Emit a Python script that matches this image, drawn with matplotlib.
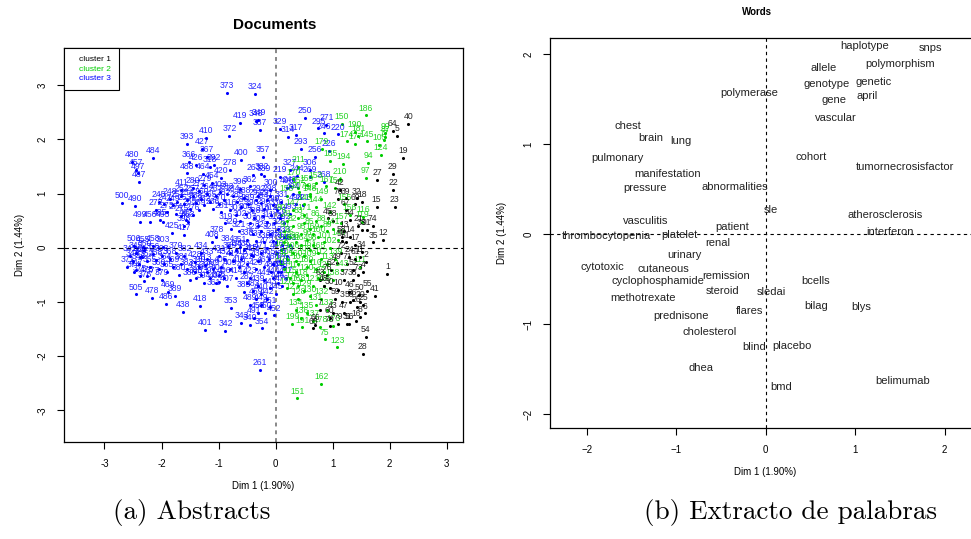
import matplotlib
matplotlib.use('Agg')
import matplotlib.pyplot as plt
from matplotlib.lines import Line2D

plt.rcParams['font.family'] = ['Liberation Sans', 'DejaVu Sans']

# documents: (dim1, dim2, label) per cluster
clus1 = [(2.33, 2.28, '40'), (2.05, 2.16, '64'), (2.13, 2.06, '5'), (2.23, 1.65, '19'),
         (2.05, 1.36, '29'), (1.78, 1.25, '27'), (2.06, 1.06, '22'), (2.09, 0.75, '23'),
         (1.77, 0.75, '15'), (1.42, 0.91, '32'), (1.51, 0.85, '18'), (1.13, 1.06, '42'),
         (1.23, 0.91, '39'), (1.88, 0.14, '12'), (1.71, 0.10, '35'), (1.23, 0.10, '51'),
         (1.16, 0.12, '57'), (1.16, 0.20, '58'), (1.74, -0.89, '41'), (1.61, -0.80, '55'),
         (1.47, -0.87, '50'), (1.29, -0.81, '46'), (1.35, -0.96, '36'), (1.96, -0.49, '1'),
         (1.51, -0.07, '34'), (1.39, -0.20, '61'), (1.48, -0.17, '11'), (1.58, -0.26, '2'),
         (1.36, -0.41, '52'), (1.58, -1.64, '54'), (1.53, -1.96, '28'), (1.42, -1.09, '26'),
         (1.57, -1.21, '6'), (1.48, -1.28, '8'), (1.41, -1.35, '16'), (1.29, -1.40, '56'),
         (1.26, -1.41, '31'), (1.10, -1.40, '79'), (0.69, -1.43, '66'), (0.66, -1.49, '65'),
         (1.10, -0.78, '10'), (0.95, -0.75, '30'), (0.84, -0.71, '48'), (0.78, -0.60, '63'),
         (1.16, -1.00, '3'), (1.48, -1.00, '20'), (1.54, -1.06, '25'), (0.78, -1.15, '7'),
         (0.92, 0.54, '45'), (1.00, 0.49, '68'), (1.30, 0.51, '44'), (1.23, 0.70, '67'),
         (1.51, 0.33, '33'), (1.60, 0.33, '91'), (0.98, -0.41, '62'), (1.07, -0.29, '49'),
         (1.29, -0.17, '24'), (1.54, -0.44, '4'), (1.20, 0.30, '13'), (1.30, 0.20, '14'),
         (1.40, 0.05, '17'), (1.45, 0.40, '21'), (1.20, -0.60, '37'), (1.35, -0.60, '38'),
         (1.00, -1.20, '43'), (1.20, -1.20, '47'), (1.30, -1.00, '53'), (1.05, -0.95, '59'),
         (0.95, -1.30, '60'), (1.40, 0.80, '69'), (1.10, 0.90, '70'), (1.25, -0.30, '71'),
         (1.15, -0.10, '72'), (1.45, -0.50, '73'), (1.70, 0.40, '74'), (0.90, -0.50, '76'),
         (0.95, -1.45, '78')]

clus2 = [(1.58, 2.44, '186'), (1.16, 2.28, '150'), (1.39, 2.14, '190'), (1.45, 2.06, '181'),
         (1.40, 1.91, '177'), (1.25, 1.96, '174'), (1.60, 1.96, '145'), (1.92, 2.04, '87'),
         (1.92, 2.11, '99'), (1.90, 1.98, '77'), (0.81, 1.83, '179'), (1.82, 1.89, '105'),
         (1.85, 1.71, '124'), (1.62, 1.56, '94'), (1.58, 1.29, '97'), (0.96, 1.60, '185'),
         (1.19, 1.54, '194'), (0.40, 1.49, '211'), (0.41, 1.02, '207'), (0.31, 1.26, '170'),
         (1.13, 1.27, '210'), (0.89, 1.13, '167'), (0.60, 0.99, '192'), (1.54, 0.57, '116'),
         (1.51, 0.48, '119'), (1.08, -1.84, '123'), (0.80, -2.51, '162'), (0.38, -2.78, '151'),
         (0.86, -1.69, '75'), (0.78, -1.46, '178'), (0.29, -1.41, '199'), (0.47, -1.47, '191'),
         (1.01, -1.44, '173'), (1.16, -0.42, '143'), (1.48, -0.35, '111'),
         (0.10, 0.60, '80'), (0.20, 0.50, '81'), (0.30, 0.40, '82'), (0.40, 0.55, '83'),
         (0.50, 0.45, '84'), (0.60, 0.35, '85'), (0.70, 0.50, '86'), (0.80, 0.40, '88'),
         (0.90, 0.30, '89'), (0.15, 0.30, '90'), (0.25, 0.20, '92'), (0.35, 0.10, '93'),
         (0.45, 0.25, '95'), (0.55, 0.15, '96'), (0.65, 0.05, '98'), (0.75, 0.20, '100'),
         (0.85, 0.10, '101'), (0.95, 0.00, '102'), (0.10, -0.05, '103'), (0.20, -0.20, '104'),
         (0.30, -0.10, '106'), (0.40, -0.30, '107'), (0.50, -0.15, '108'), (0.60, -0.25, '109'),
         (0.70, -0.40, '110'), (0.80, -0.20, '112'), (0.90, -0.30, '113'), (0.15, -0.40, '114'),
         (0.25, -0.55, '115'), (0.35, -0.45, '117'), (0.45, -0.60, '118'), (0.55, -0.50, '120'),
         (0.65, -0.70, '121'), (0.75, -0.55, '122'), (0.85, -0.45, '125'), (0.20, -0.75, '126'),
         (0.30, -0.85, '127'), (0.40, -0.95, '128'), (0.50, -0.80, '129'), (0.60, -0.90, '130'),
         (0.70, -1.05, '131'), (0.80, -0.95, '132'), (0.90, -1.15, '133'), (0.35, -1.15, '134'),
         (0.55, -1.20, '135'), (0.45, -1.30, '136'), (0.65, -1.35, '137'), (1.00, -0.60, '138'),
         (1.05, -0.20, '139'), (1.10, 0.15, '140'), (1.00, 0.35, '141'), (0.95, 0.65, '142'),
         (0.70, 0.75, '144'), (0.50, 0.80, '146'), (0.30, 0.70, '147'), (0.60, 0.95, '148'),
         (0.80, 0.90, '149'), (0.40, 1.10, '152'), (0.70, 1.20, '153'), (1.05, 1.10, '154'),
         (1.20, 0.80, '155'), (1.30, 0.60, '156'), (1.15, 0.45, '157'), (0.20, 0.95, '158'),
         (0.55, 1.15, '159'), (0.35, -0.25, '160'), (0.60, -0.05, '161'), (0.25, 0.05, '163'),
         (0.45, 0.05, '164'), (0.75, -0.10, '165'), (0.85, -0.70, '166'), (0.40, -0.70, '168'),
         (0.65, 0.25, '169'), (0.50, 0.60, '171'), (0.15, 0.10, '172'), (0.10, -0.30, '175'),
         (0.30, -0.65, '176'), (0.55, -0.35, '180')]

clus3 = [(-0.85, 2.85, '373'), (-0.36, 2.84, '324'), (-0.63, 2.31, '419'), (-0.35, 2.34, '348'),
         (-0.30, 2.36, '349'), (-0.28, 2.18, '387'), (-1.22, 2.02, '410'), (-0.81, 2.07, '372'),
         (-1.56, 1.91, '393'), (-1.29, 1.83, '427'), (-1.21, 1.68, '367'), (-0.61, 1.62, '400'),
         (-0.22, 1.68, '357'), (-2.51, 1.59, '480'), (-2.15, 1.65, '484'), (-2.45, 1.43, '457'),
         (-2.41, 1.37, '497'), (-2.39, 1.21, '487'), (-1.52, 1.59, '366'), (-1.39, 1.53, '426'),
         (-1.15, 1.49, '318'), (-1.08, 1.53, '392'), (-0.80, 1.43, '278'), (-0.95, 1.29, '420'),
         (-1.27, 1.36, '464'), (-1.56, 1.37, '488'), (-1.12, 1.19, '454'), (-0.39, 1.34, '263'),
         (-0.25, 1.36, '332'), (-0.20, 1.32, '339'), (-0.09, 1.06, '300'), (-0.45, 1.13, '362'),
         (-2.69, 0.83, '500'), (-2.47, 0.77, '490'), (-0.98, 1.03, '403'), (-1.65, 1.06, '411'),
         (-0.63, 1.08, '396'), (-2.38, 0.47, '499'), (-2.21, 0.47, '456'), (-2.03, 0.51, '485'),
         (-1.97, 0.47, '495'), (-1.82, 0.28, '425'), (-1.61, 0.40, '398'), (-1.57, 0.51, '462'),
         (-1.53, 0.48, '463'), (-1.60, 0.23, '417'), (-2.49, 0.03, '506'), (-2.15, 0.03, '458'),
         (-1.98, 0.01, '303'), (-2.32, 0.01, '455'), (-2.38, -0.17, '460'), (-2.44, -0.41, '447'),
         (-2.25, -0.53, '475'), (-2.45, -0.86, '505'), (-2.17, -0.93, '478'), (-1.92, -1.04, '486'),
         (-1.88, -0.81, '469'), (-1.77, -0.89, '389'), (-1.63, -1.19, '438'), (-1.33, -1.08, '418'),
         (-1.24, -1.51, '401'), (-0.88, -1.54, '342'), (-0.79, -1.11, '353'), (-0.60, -1.39, '343'),
         (-0.45, -1.43, '340'), (-0.24, -1.49, '354'), (-0.27, -2.26, '261'), (-1.09, -0.78, '361'),
         (-1.42, -0.44, '437'), (-1.42, -0.26, '428'), (-1.23, -0.32, '413'), (-0.83, 0.03, '384'),
         (-1.04, 0.20, '378'), (-1.12, 0.11, '408'), (-0.80, -0.10, '359'), (-0.63, 0.02, '351'),
         (-0.44, -0.13, '315'), (-0.51, -0.66, '287'), (-0.56, -0.81, '385'), (-0.99, -0.63, '305'),
         (0.48, 0.79, '221'), (0.84, 1.22, '268'), (0.84, 2.11, '246'), (1.10, 2.09, '220'),
         (0.94, 1.79, '226'), (0.89, 2.27, '271'), (0.51, 2.39, '250'), (0.08, 2.19, '329'),
         (0.35, 2.08, '317'), (0.22, 2.04, '314'), (0.44, 1.83, '293'), (0.69, 1.67, '256'),
         (0.60, 1.43, '306'), (0.37, 1.33, '244'), (0.25, 1.43, '327'), (0.08, 1.31, '219'),
         (0.60, 1.31, '269'), (0.25, 1.13, '243'), (0.75, 2.20, '295'),
         (-2.05, 0.85, '245'), (-1.95, 0.80, '247'), (-1.85, 0.90, '248'), (-1.80, 0.78, '249'),
         (-1.72, 0.85, '251'), (-1.65, 0.95, '252'), (-1.60, 0.80, '253'), (-1.55, 0.88, '254'),
         (-1.50, 0.72, '255'), (-1.45, 0.95, '257'), (-1.40, 0.82, '258'), (-1.35, 0.70, '259'),
         (-1.30, 0.90, '260'), (-1.25, 0.78, '262'), (-1.20, 1.00, '264'), (-1.15, 0.85, '265'),
         (-1.10, 0.72, '266'), (-1.05, 0.95, '267'), (-1.00, 0.80, '270'), (-2.10, 0.70, '272'),
         (-1.90, 0.65, '273'), (-1.75, 0.62, '274'), (-1.65, 0.58, '275'), (-1.45, 0.60, '276'),
         (-1.35, 1.05, '277'), (-1.25, 1.15, '279'), (-1.45, 1.10, '280'), (-0.95, 0.65, '281'),
         (-0.90, 0.88, '282'), (-0.85, 1.00, '283'),
         (-0.75, 0.95, '284'), (-0.68, 0.85, '285'), (-0.60, 0.75, '286'), (-0.55, 0.92, '288'),
         (-0.48, 0.80, '289'), (-0.42, 0.70, '290'), (-0.35, 0.88, '291'), (-0.30, 0.95, '292'),
         (-0.25, 0.82, '294'), (-0.20, 0.72, '296'), (-0.15, 0.88, '297'), (-0.10, 0.95, '298'),
         (-0.05, 0.78, '299'), (-0.70, 0.60, '301'), (-0.62, 0.50, '302'), (-0.52, 0.62, '304'),
         (-0.45, 0.45, '307'), (-0.38, 0.55, '308'), (-0.30, 0.40, '309'), (-0.22, 0.58, '310'),
         (-0.15, 0.48, '311'), (-0.08, 0.60, '312'), (-0.02, 0.45, '313'), (-0.80, 0.70, '316'),
         (-0.88, 0.45, '319'), (-0.78, 0.35, '320'), (-0.65, 0.30, '321'), (-0.40, 0.25, '322'),
         (-0.25, 0.30, '323'), (-0.10, 0.25, '325'), (0.05, 0.35, '326'), (0.08, 0.55, '328'),
         (0.02, 0.70, '330'), (0.10, 0.85, '331'), (0.15, 0.20, '333'), (0.12, 0.05, '334'),
         (-0.05, 0.12, '335'), (-0.20, 0.10, '336'), (-0.35, 0.12, '337'), (-0.50, 0.15, '338'),
         (-2.55, -0.15, '341'), (-2.50, -0.25, '344'), (-2.45, -0.10, '345'), (-2.40, -0.30, '346'),
         (-2.35, -0.18, '347'), (-2.30, -0.05, '350'), (-2.25, -0.25, '352'), (-2.20, -0.35, '355'),
         (-2.15, -0.12, '356'), (-2.10, -0.22, '358'), (-2.05, -0.40, '360'), (-2.00, -0.15, '363'),
         (-1.95, -0.30, '364'), (-1.90, -0.45, '365'), (-1.85, -0.20, '368'), (-1.80, -0.35, '369'),
         (-1.75, -0.10, '370'), (-2.60, -0.35, '371'), (-2.48, -0.45, '374'), (-2.38, -0.52, '375'),
         (-2.30, -0.62, '376'), (-2.15, -0.55, '377'), (-2.00, -0.60, '379'), (-1.70, -0.50, '380'),
         (-1.65, -0.30, '381'), (-1.60, -0.15, '382'), (-1.55, -0.40, '383'),
         (-1.50, -0.60, '386'), (-1.40, -0.55, '388'), (-1.35, -0.35, '390'), (-1.30, -0.50, '391'),
         (-1.25, -0.65, '394'), (-1.20, -0.45, '395'), (-1.15, -0.55, '397'), (-1.10, -0.40, '399'),
         (-1.05, -0.65, '402'), (-1.00, -0.50, '404'), (-0.95, -0.35, '405'), (-0.90, -0.55, '406'),
         (-0.85, -0.70, '407'), (-0.80, -0.40, '409'), (-0.75, -0.25, '412'), (-0.70, -0.55, '414'),
         (-0.65, -0.35, '415'), (-0.60, -0.20, '416'), (-0.55, -0.45, '421'), (-0.50, -0.30, '422'),
         (-0.45, -0.55, '423'), (-0.40, -0.15, '424'), (-0.35, -0.40, '429'), (-0.30, -0.25, '430'),
         (-1.00, -0.15, '431'), (-0.90, -0.20, '432'), (-1.20, -0.20, '433'), (-1.30, -0.10, '434'),
         (-0.70, -0.05, '435'), (-0.55, -0.05, '436'),
         (-0.30, -0.70, '439'), (-0.25, -0.85, '440'), (-0.20, -0.60, '441'), (-0.15, -0.95, '442'),
         (-0.10, -0.75, '443'), (-0.05, -0.55, '444'), (0.00, -0.85, '445'), (0.05, -0.65, '446'),
         (0.10, -0.45, '448'), (-0.25, -1.05, '449'), (-0.18, -1.20, '450'), (-0.10, -1.10, '451'),
         (-0.02, -1.25, '452'), (-0.30, -1.20, '453'), (-0.35, -0.95, '459'), (-0.20, -0.35, '461'),
         (-0.12, -0.20, '465'), (-0.05, -0.30, '466'), (0.02, -0.10, '467'), (0.08, -0.25, '468'),
         (0.15, -0.35, '470'), (-0.25, -0.10, '471'), (-0.15, 0.00, '472'), (0.00, 0.10, '473'),
         (0.05, -0.45, '474'), (0.12, -0.70, '476'), (0.18, -0.55, '477'), (0.20, -0.15, '479'),
         (0.25, 0.05, '481'), (-0.08, -0.45, '482'), (-0.40, -0.80, '483'), (-0.45, -1.05, '489'),
         (-0.38, -1.30, '491'), (0.15, 0.45, '492'), (0.25, 0.62, '493'), (0.30, 1.00, '494'),
         (0.20, 1.10, '496'), (0.35, 0.80, '498')]

cluster_names = ['cluster 1', 'cluster 2', 'cluster 3']
cluster_colors = ['black', '#00CD00', 'blue']

# words: (dim1, dim2)
words = ['haplotype', 'snps', 'allele', 'polymorphism', 'genotype', 'genetic', 'gene', 'april',
         'polymerase', 'vascular', 'chest', 'brain', 'lung', 'pulmonary', 'cohort',
         'manifestation', 'tumornecrosisfactor', 'pressure', 'abnormalities', 'sle',
         'atherosclerosis', 'vasculitis', 'patient', 'interferon', 'thrombocytopenia',
         'platelet', 'renal', 'urinary', 'cytotoxic', 'cutaneous', 'remission',
         'cyclophosphamide', 'bcells', 'steroid', 'sledai', 'methotrexate', 'bilag', 'blys',
         'flares', 'prednisone', 'cholesterol', 'placebo', 'blind', 'dhea', 'belimumab', 'bmd']
word_x = [1.11, 1.84, 0.65, 1.50, 0.68, 1.21, 0.77, 1.13, -0.18, 0.78, -1.54, -1.28, -0.95,
          -1.65, 0.51, -1.10, 1.56, -1.35, -0.34, 0.06, 1.34, -1.34, -0.37, 1.39, -1.78, -0.96,
          -0.53, -0.91, -1.82, -1.14, -0.44, -1.20, 0.56, -0.48, 0.06, -1.37, 0.57, 1.07, -0.18,
          -0.94, -0.63, 0.29, -0.13, -0.72, 1.53, 0.17]
word_y = [2.09, 2.07, 1.85, 1.89, 1.67, 1.69, 1.49, 1.53, 1.57, 1.29, 1.20, 1.07, 1.03, 0.84,
          0.86, 0.67, 0.75, 0.51, 0.52, 0.27, 0.21, 0.14, 0.08, 0.02, -0.02, -0.01, -0.10, -0.23,
          -0.37, -0.39, -0.47, -0.52, -0.52, -0.63, -0.65, -0.71, -0.80, -0.81, -0.86, -0.91,
          -1.09, -1.25, -1.26, -1.49, -1.63, -1.70]

doc_ticks = [-3, -2, -1, 0, 1, 2, 3]
word_ticks = [-2, -1, 0, 1, 2]

fig = plt.figure(figsize=(9.71, 5.39), dpi=100)

# ---- left: documents
ax1 = fig.add_axes([0.0659, 0.1794, 0.4106, 0.7321])
for pts, col in [(clus3, cluster_colors[2]), (clus2, cluster_colors[1]), (clus1, cluster_colors[0])]:
    xs = [p[0] for p in pts]
    ys = [p[1] for p in pts]
    ax1.scatter(xs, ys, s=5, color=col, linewidths=0, zorder=3)
    for x, y, lab in pts:
        ax1.annotate(lab, (x, y), xytext=(0, 2), textcoords='offset points',
                     ha='center', va='bottom', fontsize=6.2, color=col, alpha=0.85, zorder=4)
ax1.axhline(0, color='black', linestyle=(0, (4, 3)), linewidth=0.8, zorder=2)
ax1.axvline(0, color='#888888', linestyle=(0, (2, 2)), linewidth=1.4, zorder=2)
ax1.set_xlim(-3.71, 3.28)
ax1.set_ylim(-3.59, 3.69)
ax1.set_xticks(doc_ticks)
ax1.set_xticklabels([str(t) for t in doc_ticks])
ax1.set_yticks(doc_ticks)
ax1.set_yticklabels([str(t) for t in doc_ticks], rotation=90, va='center')
ax1.tick_params(labelsize=7, length=5, width=0.8, pad=7)
ax1.set_xlabel('Dim 1 (1.90%)', fontsize=7, labelpad=9)
ax1.set_ylabel('Dim 2 (1.44%)', fontsize=7, labelpad=9)
for sp in ax1.spines.values():
    sp.set_linewidth(0.9)
handles = [Line2D([], [], linestyle='none') for _ in cluster_names]
leg = ax1.legend(handles, cluster_names, loc='upper left', borderaxespad=0, fancybox=False,
                 edgecolor='black', framealpha=1, fontsize=6, handlelength=0,
                 handletextpad=0.9, borderpad=0.95, labelspacing=0.2, labelcolor=cluster_colors)
leg.get_frame().set_linewidth(0.8)
fig.text(275 / 971, 1 - 25 / 539, 'Documents', ha='center', va='center', fontsize=11,
         fontweight='bold')

# ---- right: words
ax2 = fig.add_axes([0.5664, 0.2059, 0.4441, 0.7236])
for w, x, y in zip(words, word_x, word_y):
    ax2.text(x, y, w, ha='center', va='center', fontsize=8, color='#222222')
ax2.axhline(0, color='black', linestyle=(0, (3, 3)), linewidth=0.8)
ax2.axvline(0, color='black', linestyle=(0, (3, 3)), linewidth=0.8)
ax2.set_xlim(-2.41, 2.41)
ax2.set_ylim(-2.156, 2.178)
ax2.set_xticks(word_ticks)
ax2.set_xticklabels(['\u2212' + str(-t) if t < 0 else str(t) for t in word_ticks])
ax2.set_yticks(word_ticks)
ax2.set_yticklabels(['\u2212' + str(-t) if t < 0 else str(t) for t in word_ticks],
                    rotation=90, va='center')
ax2.tick_params(labelsize=7, length=5, width=0.8, pad=7)
ax2.set_xlabel('Dim 1 (1.90%)', fontsize=7, labelpad=9)
ax2.set_ylabel('Dim 2 (1.44%)', fontsize=7, labelpad=12)
for sp in ax2.spines.values():
    sp.set_linewidth(0.9)
fig.text(757 / 971, 1 - 12 / 539, 'Words', ha='center', va='center', fontsize=7,
         fontweight='bold')

# captions
fig.text(192 / 971, 1 - 513 / 539, '(a) Abstracts', ha='center', va='center',
         fontsize=19.5, family='cmr10')
fig.text(790 / 971, 1 - 513 / 539, '(b) Extracto de palabras', ha='center', va='center',
         fontsize=19.5, family='cmr10')

fig.savefig('out.png', dpi=100)
